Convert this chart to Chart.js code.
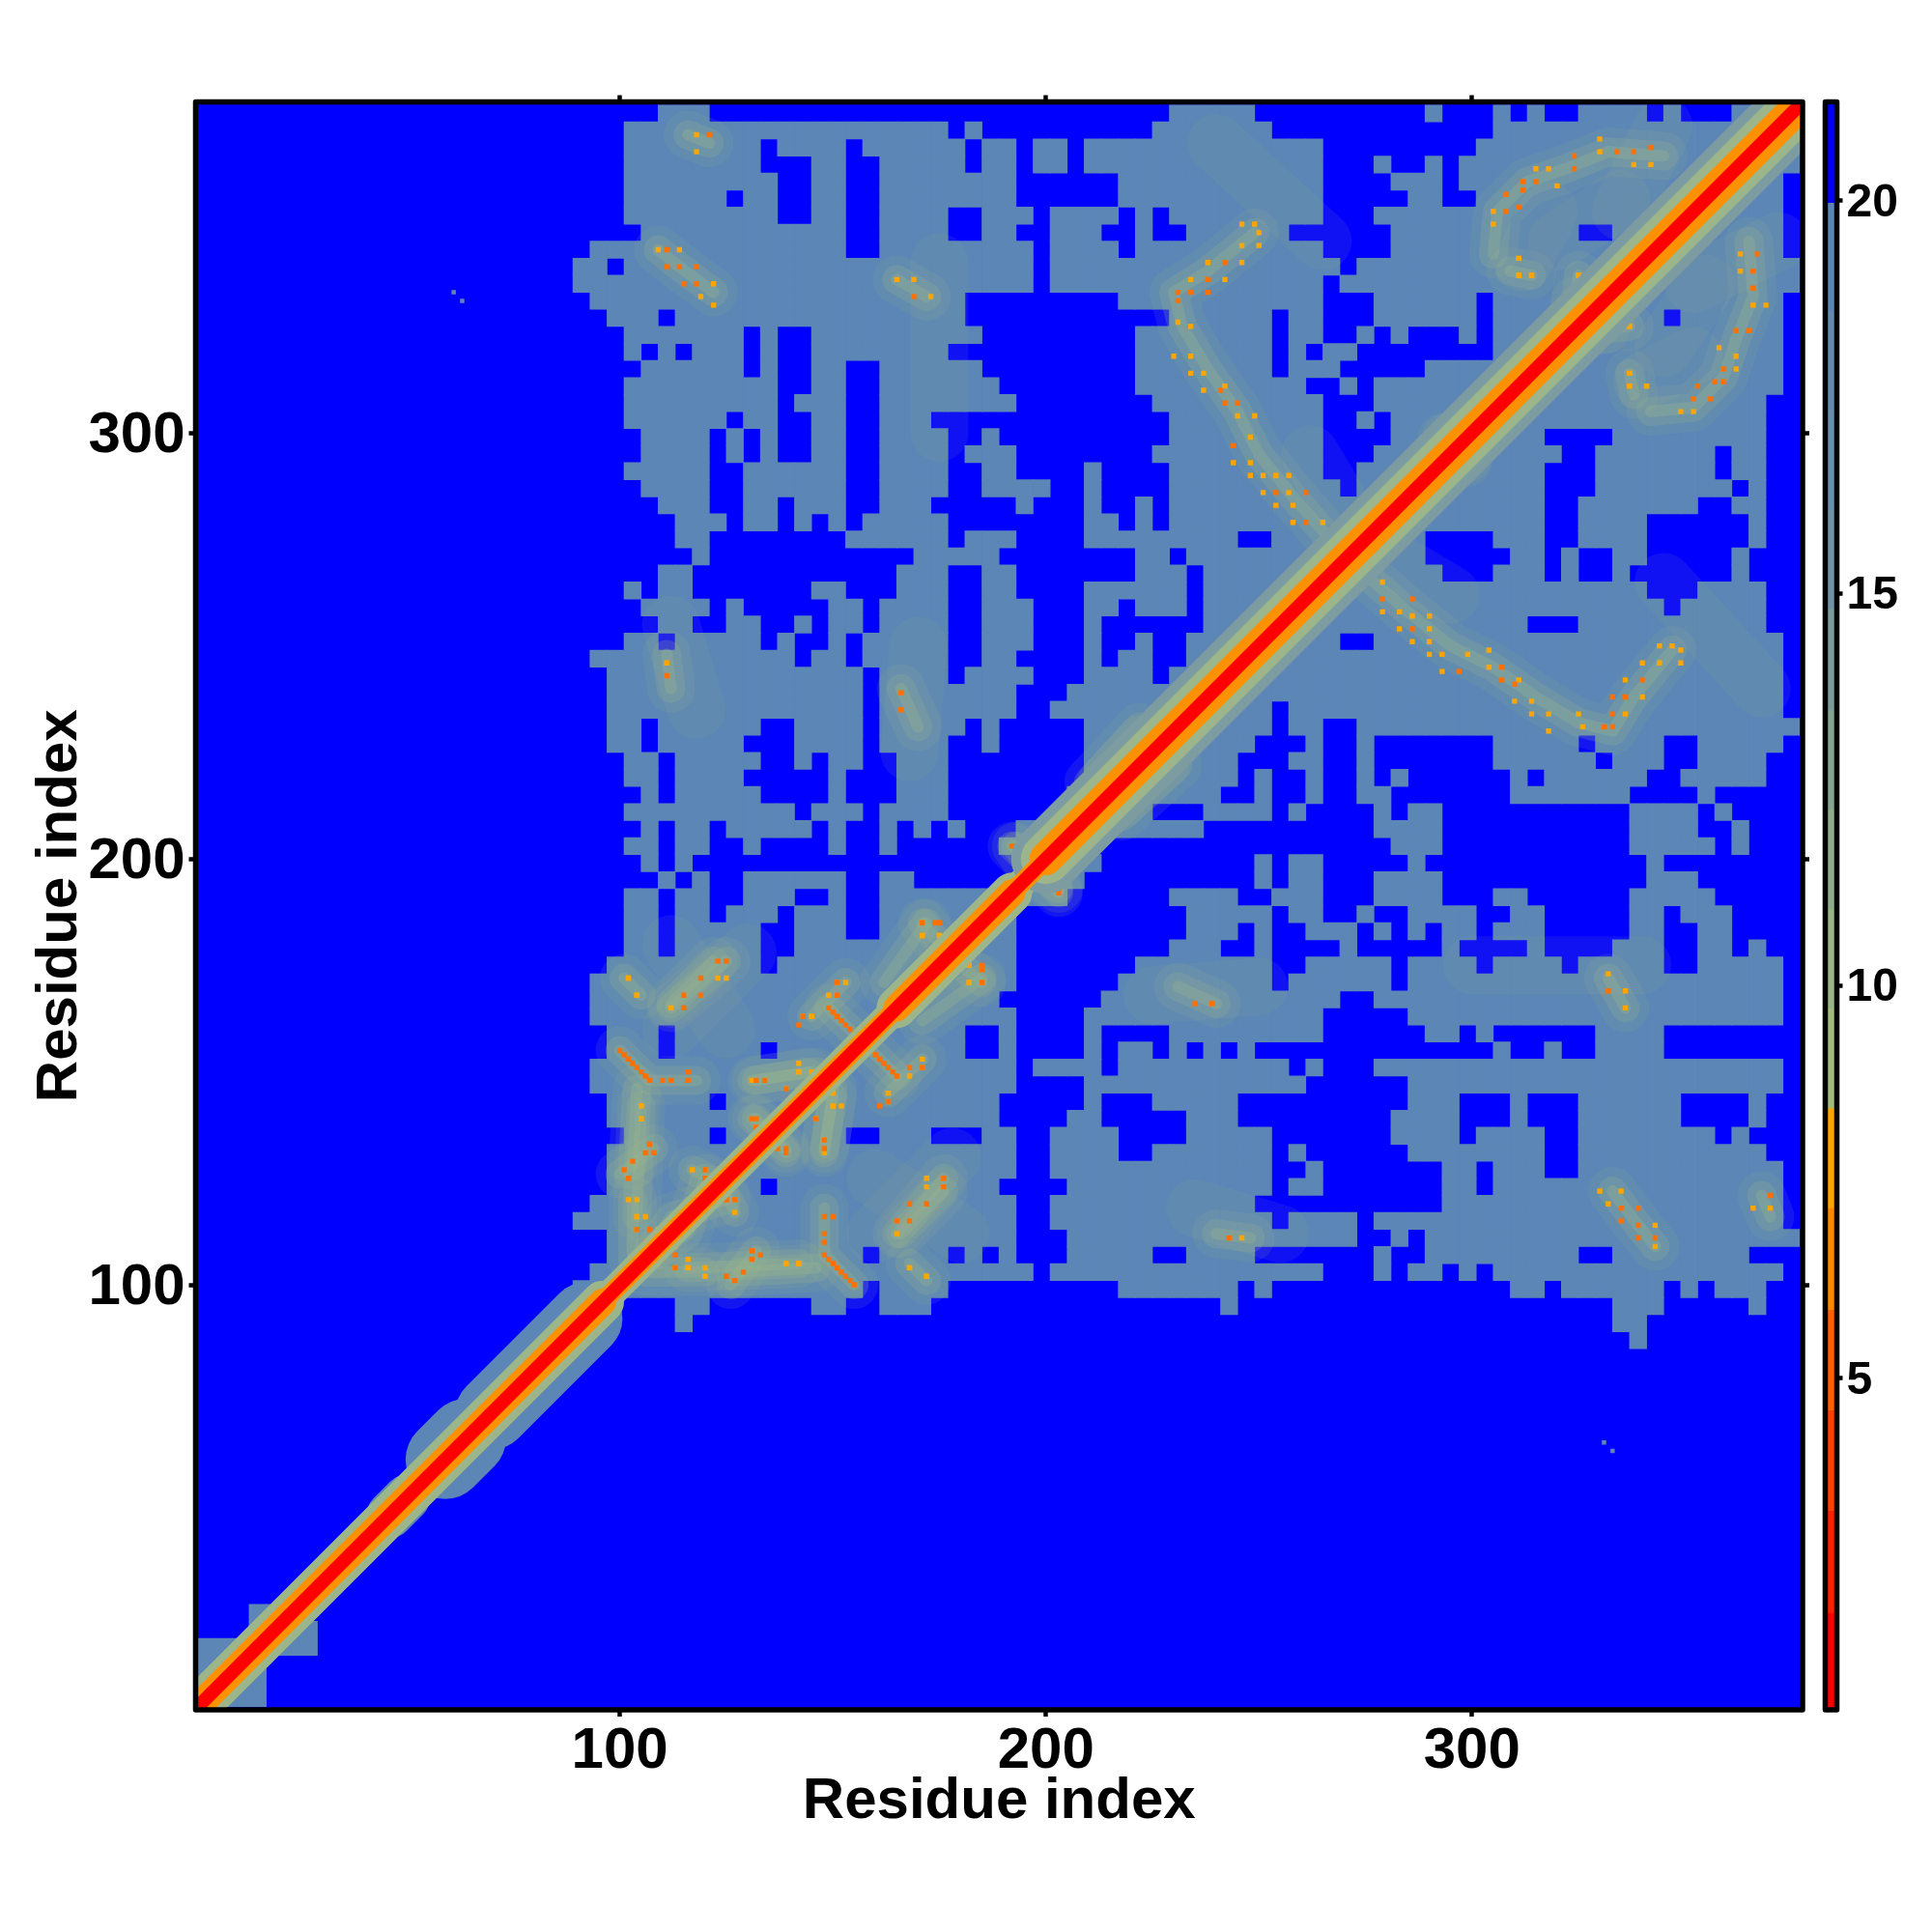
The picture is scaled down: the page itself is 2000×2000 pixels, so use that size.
<!DOCTYPE html>
<html>
<head>
<meta charset="utf-8">
<script src="https://cdn.jsdelivr.net/npm/chart.js@4"></script>
<style>
  html, body { margin: 0; background: #fff; }
  canvas { position: absolute; left: 0; top: 0; }
</style>
</head>
<body>
<canvas id="mapChart" width="2000" height="2000"></canvas>
<canvas id="barChart" width="2000" height="2000"></canvas>
<script>
// tick labels
const axisTicks = [100, 200, 300];
const colorTicks = [5, 10, 15, 20];

// colour key: band edges (distance) and the colour of each band
const bandEdges = [0.77, 2.0, 3.3, 4.58, 5.86, 7.16, 8.43, 9.7, 10.97, 12.24, 13.5, 14.8, 16.06, 17.33, 18.6, 19.97, 21.26];
const bandColors = ['#ff0000', '#ff2000', '#ff4000', '#ff6000', '#ff8800', '#ffa500', '#a3bc7e', '#9ab584', '#8fad8b',
    '#84a592', '#7a9c9b', '#6f94a6', '#6790ac', '#618cb0', '#5b86b6', '#0000ff'];

// residues per row of the coarse map, top row first: blocks below 20 A, each block is 4 residues
const steelRows = [
    '27-29 57-61 72 76 78 81-84 86 90-93',
    '25-43 45 56-62 76-93',
    '25-32 34-37 39-44 46-47 49-50 52-65 75-93',
    '25-32 36-37 40-44 46-47 49-50 52-65 69 72 74-93',
    '25-33 36-37 40-47 54-65 70-72 74-92',
    '25-30 32-33 36-37 40-47 54-65 71-72 75-92',
    '25-33 36-37 40-43 46-48 50-53 55 57-65 69-92',
    '26-37 40-43 46-47 50-52 55 58-63 70-80 83-92',
    '23-37 40-48 50-53 55-65 70-92',
    '22-23 25-48 50-66 68-93',
    '22-48 50-65 67-93',
    '23-44 54-65 69-74 76-92',
    '24-26 28-44 57-62 64-65 69-74 76-85 87-92',
    '25-31 33 36-45 55-62 64-65 68 70 74 76-92',
    '25 27 29-31 33 36-43 55-62 64 66-67 76-92',
    '26-31 33 36-37 40-45 55-62 64-66 72-92',
    '25-33 36-37 40-46 55-64 67 69-92',
    '25-33 35-37 40-47 56-65 69-91',
    '25-30 32-33 36-37 40-42 57-65 68 70-91',
    '26-29 31 33 36-37 40-43 46 57-65 70-78 83-91',
    '26-29 31 33 36-37 40-43 45-47 56-65 69-79 82-88 90-91',
    '25-29 32-37 40-43 46-47 52 57-65 68-78 82-88 90-91',
    '26-29 32-37 40-43 46-49 52 57-66 68-78 82-89 91',
    '27-29 32-33 35-37 40-42 48 52 55 57-78 81-87 90-91',
    '28-30 32-33 35 37 39-43 52-53 55 57-78 81-84 91',
    '28-29 38-43 45-47 52-60 63-71 76-78 81-84 91',
    '29 42-46 55-56 58-71 77-78 80 83-84 90',
    '27-28 41-43 46-47 55-57 59-72 76-78 80 83 90',
    '25 27-28 36-37 41-43 46-47 52-57 59-84 88-91',
    '26-29 31 37-38 40-43 46-48 52-53 55-57 59-85 87-91',
    '27-28 31-32 35 37-38 40-43 46-48 52 59-77 81-91',
    '25-26 28-32 34 37 39-43 46-48 52 55 58-66 69-92',
    '23-34 36-37 39-43 46-47 52 54-55 58-92',
    '24-38 40-43 45-48 52-55 57-92',
    '24-38 40-47 51-92',
    '24-38 40-47 50-62 64-92',
    '24-25 27-32 35-38 40-44 46 52-62 64-65 68-93',
    '24-25 27-31 35-38 40-43 46 52-61 65 68 76-80 82-85 88-92',
    '25-26 28-32 35 37-38 41-43 52-60 64-65 68 76-81 83-85 88-91',
    '25-26 28-31 37 41-43 52-60 62 65 68 70 77 79-84 87-91',
    '26 28-32 37 41-43 51-59 62 65 68-69 77-83 88',
    '25-34 36-38 40-43 51-55 59-62 64 69 71-72 84-87 89',
    '26 28-29 31-35 37 40 42 44 48-58 69-72 84-87 90',
    '25-26 28-29 32 37 40 47-51 70-72 84-88 90',
    '26 28 48-52 62 64-65 71 85',
    '27 29 32-37 40-41 48-51 62 64-65 69-72 85-87',
    '25-26 28-29 32-34 37 40-50 57-60 63-65 69-72 76-77 84-88',
    '25-26 28-29 31-33 35-37 40-47 58-62 64-65 68 71-74 77-78 84-85 87-89',
    '25-26 28-32 35-37 40-47 58-60 62 65-67 69 71 73-74 76-78 84-85 88-89',
    '25-26 28-32 35-47 57-59 62 67 73 78 83-85 88-89 91',
    '24-32 34-47 55-62 65-69 71-74 76-79 81-85 88-92',
    '23-47 54-62 64-69 71-92',
    '23-46 53-66 69-92',
    '23-47 52-65 71-92',
    '24-26 28-44 47 52 57-65 72-73 75 82-85',
    '24-26 28-32 34-44 47 52 54-55 57 59 61 76 79 82-85',
    '23-47 49-52 54-63 65 69-92',
    '23-47 52-64 71-92',
    '24-29 31-46 52 56-60 71-73 77 81-86 91',
    '24-46 51-52 58-60 70-73 77 81-86 91',
    '25-29 31-37 40-42 46-47 50-53 58-62 70-73 75-78 81-88 90',
    '24-47 50-53 56-62 64 71-78 81-91',
    '24-47 50-62 65 73-74 76-78 81-92',
    '24-32 34-46 51-62 64-65 73-74 76-92',
    '23-47 50-61 73-92',
    '22-47 50-62 64-67 69-92',
    '24-47 51-67 70 72-93',
    '24-38 40-43 45 47 51-55 58-61 69 72-80 83-90',
    '23-48 50-65 69 71-72 74 76-92',
    '22-38 40-43 54-60 62 77-78 80-85 87 89-91',
    '28-29 36-37 40-42 60 83-85 91',
    '28 83-84', '84',
    '', '', '', '', '', '', '', '', '', '', '', '', '', '', '',
    '3-5', '3-6', '0-2 4-6', '0-3', '0-3', '0-3'
];

// single cells under 20 A standing apart from the rest
const specksX = [61, 63, 331, 333];
const specksY = [333, 331, 63, 61];

// main diagonal
const diagonalX = [1, 377];
const diagonalY = [1, 377];
// stretches of the diagonal, by how thick the band is there
const looseStretch = [1, 96];
const tightStretch = [96, 200];
const thickStretch = [165, 192];
const innerStretch = [200, 377];
// wide blobs round the diagonal in the first 100 residues
const blobLarge = [[70, 70], [92, 92]];
const blobRound = [[59, 59], [64, 64]];
const blobSmall = [[46, 46], [50, 50]];
const blobTiny = [[15, 15], [22, 22]];

// ridges and patches of the 8-13 A range above the diagonal, x < y; the map is close to symmetric
const ridges = [
    [[270, 272], [265, 277], [258, 285], [250, 295], [245, 305], [238, 315], [232, 325], [230, 333], [238, 338], [249, 347]],
    [[305, 342], [306, 352], [313, 359], [322, 362], [332, 366], [345, 365]],
    [[309, 338], [314, 337]],
    [[325, 337], [324, 327], [331, 324]],
    [[109, 343], [114, 339], [122, 333]],
    [[116, 370], [121, 368]],
    [[165, 336], [172, 332]],
    [[111, 248], [112, 240]],
    [[166, 240], [170, 231]],
    [[100, 155], [107, 148], [118, 148]],
    [[104, 146], [103, 128]],
    [[100, 126], [108, 132]],
    [[112, 166], [122, 176]],
    [[101, 172], [105, 168]],
    [[107, 109], [112, 116], [125, 120]],
    [[149, 165], [155, 159]],
    [[145, 163], [150, 168], [153, 171]],
    [[131, 148], [146, 150], [150, 144], [148, 132]],
    [[131, 139], [139, 132]],
    [[171, 185], [175, 180]],
    [[171, 162], [185, 172]],
    [[117, 127], [121, 125]],
    [[103, 120], [103, 106]],
    [[116, 104], [142, 105]],
    [[165, 112], [176, 125]],
    [[193, 203], [196, 199]],
    [[199, 196], [203, 192]],
    [[213, 218], [222, 228]],
    [[218, 210], [231, 222]],
    [[293, 299], [299, 294]]
];

// pale cross-hatched patches further out
const palePatches = [
    [[240, 368], [265, 345]],
    [[312, 340], [318, 352]],
    [[335, 352], [345, 372]],
    [[345, 320], [355, 335]],
    [[262, 295], [268, 285]],
    [[175, 300], [175, 340]],
    [[118, 235], [112, 255]],
    [[170, 250], [168, 225]],
    [[112, 180], [125, 160]],
    [[160, 112], [178, 130]]
];

// strongest single contacts away from the diagonal, x < y
const contactsAmber = [[118, 370], [118, 366], [109, 343], [114, 343], [122, 335], [119, 332], [122, 330], [165, 336], [169, 336], [173, 332],
    [111, 246], [246, 349], [249, 349], [250, 347], [246, 344], [250, 344], [238, 340], [246, 340], [234, 336], [242, 336], [231, 326], [234, 325],
    [230, 318], [234, 318], [234, 314], [237, 314], [237, 310], [242, 311], [245, 304], [249, 304], [248, 299], [244, 293], [248, 293], [248, 290],
    [251, 290], [254, 290], [257, 290], [251, 286], [257, 286], [254, 283], [258, 283], [258, 279], [265, 279], [270, 275], [330, 369], [330, 366],
    [338, 363], [342, 363], [315, 362], [318, 362], [320, 358], [305, 352], [305, 349], [311, 341], [311, 337], [314, 337], [337, 314], [337, 311],
    [341, 311], [325, 337], [330, 338], [324, 330], [328, 330], [330, 326], [334, 325], [337, 325], [318, 325], [325, 318], [297, 303], [299, 294],
    [303, 297], [344, 350], [341, 350], [353, 345], [123, 172], [125, 172], [102, 172], [104, 168], [112, 165], [151, 171], [153, 171], [149, 168],
    [143, 163], [145, 163], [171, 182], [175, 182], [182, 175], [185, 171], [182, 171], [142, 150], [145, 150], [150, 142], [152, 142], [163, 145],
    [131, 148], [134, 148], [137, 140], [146, 139], [117, 127], [127, 120], [102, 120], [104, 116], [106, 116], [109, 113], [113, 104], [116, 104],
    [120, 104], [139, 105], [142, 105], [168, 104], [172, 102], [105, 142], [105, 139], [213, 218], [217, 214], [222, 227], [221, 213]];
const contactsOrange = [[121, 370], [111, 343], [111, 339], [114, 339], [118, 339], [115, 335], [118, 335], [169, 332], [111, 243], [166, 239], [166, 235],
    [242, 340], [238, 336], [231, 333], [234, 333], [238, 333], [231, 331], [241, 310], [242, 307], [245, 307], [244, 297], [254, 286], [261, 286],
    [261, 279], [265, 275], [265, 271], [324, 365], [334, 366], [338, 366], [342, 367], [324, 362], [312, 359], [315, 359], [312, 357], [308, 356],
    [308, 352], [311, 353], [350, 344], [359, 354], [354, 360], [323, 327], [324, 333], [328, 323], [331, 324], [293, 299], [123, 176], [125, 176],
    [119, 172], [115, 168], [119, 168], [115, 165], [171, 185], [175, 185], [175, 179], [185, 174], [185, 185], [171, 151], [168, 151], [161, 142],
    [163, 143], [139, 146], [143, 146], [148, 132], [148, 134], [120, 127], [120, 125], [125, 120], [107, 113], [104, 113], [107, 109], [110, 106],
    [100, 155], [101, 154], [102, 153], [103, 152], [104, 151], [105, 150], [106, 149], [107, 148], [110, 148], [112, 148], [116, 148], [116, 150],
    [101, 127], [102, 125], [103, 129], [106, 131], [107, 133], [108, 131], [149, 165], [150, 164], [151, 163], [152, 162], [153, 161], [154, 160],
    [155, 159], [131, 139], [133, 136], [135, 134], [137, 132], [139, 132], [193, 203], [194, 202], [195, 201], [196, 199], [199, 196], [200, 195],
    [201, 194], [202, 193], [203, 192], [204, 207], [227, 222], [228, 218], [231, 222], [218, 228], [222, 230], [219, 224]];

const STEEL = '#5b86b6';
const SAGE = '#9cb58a';
const BLUE = '#0000ff';

// plot-area fill and frame, shared by both charts
const framePlugin = {
    id: 'frame',
    beforeDatasetsDraw(chart) {
        const a = chart.chartArea;
        chart.ctx.save();
        chart.ctx.fillStyle = BLUE;
        chart.ctx.fillRect(a.left, a.top, a.width, a.height);
        chart.ctx.restore();
    },
    afterDraw(chart) {
        const a = chart.chartArea;
        const ctx = chart.ctx;
        ctx.save();
        ctx.strokeStyle = '#000';
        ctx.lineWidth = 5.5;
        ctx.lineJoin = 'round';
        ctx.strokeRect(a.left, a.top, a.width, a.height);
        ctx.restore();
    }
};

function mirror(points) {
    return points.map(p => ({ x: p[1], y: p[0] }));
}

function toPoints(points) {
    return points.map(p => ({ x: p[0], y: p[1] }));
}

function steelCells() {
    const out = [];
    steelRows.forEach((row, r) => {
        row.split(' ').filter(Boolean).forEach(run => {
            const parts = run.split('-').map(Number);
            const last = parts.length > 1 ? parts[1] : parts[0];
            for (let c = parts[0]; c <= last; c++) {
                out.push({ x: 3 + c * 4, y: 375 - r * 4 });
            }
        });
    });
    return out;
}

function band(points, width, color) {
    return {
        type: 'scatter', data: points, showLine: true, borderColor: color, borderWidth: width,
        borderCapStyle: 'round', borderJoinStyle: 'round', pointRadius: 0, tension: 0
    };
}

function cells(points, radius, color) {
    return {
        type: 'scatter', data: points, showLine: false, pointStyle: 'rect', pointRadius: radius,
        pointBackgroundColor: color, pointBorderWidth: 0, pointHoverRadius: radius
    };
}

function stretch(pair) {
    return [{ x: pair[0], y: pair[0] }, { x: pair[1], y: pair[1] }];
}

function both(points, width, color) {
    layers.push(band(toPoints(points), width, color));
    layers.push(band(mirror(points), width, color));
}

// paint order, bottom first
const layers = [];
layers.push(cells(steelCells(), 13, STEEL));
layers.push(cells(specksX.map((x, i) => ({ x: x, y: specksY[i] })), 3.2, STEEL));
layers.push(band(toPoints(blobLarge), 76, STEEL));
layers.push(band(toPoints(blobRound), 82, STEEL));
layers.push(band(toPoints(blobSmall), 48, STEEL));
layers.push(band(toPoints(blobTiny), 40, STEEL));
palePatches.forEach(p => both(p, 60, 'rgba(156,181,138,0.1)'));
ridges.forEach(r => both(r, 50, 'rgba(156,181,138,0.12)'));
ridges.forEach(r => both(r, 30, 'rgba(156,181,138,0.22)'));
ridges.forEach(r => both(r, 12, 'rgba(156,181,138,0.3)'));
layers.push(cells(toPoints(contactsAmber).concat(mirror(contactsAmber)), 3.8, '#ffa500'));
layers.push(cells(toPoints(contactsOrange).concat(mirror(contactsOrange)), 3.8, '#ff7000'));

const diagonal = diagonalX.map((x, i) => ({ x: x, y: diagonalY[i] }));
layers.push(band(stretch(looseStretch), 44, SAGE));
layers.push(band(stretch(tightStretch), 30, SAGE));
layers.push(band(stretch(thickStretch), 42, SAGE));
layers.push(band(stretch(innerStretch), 72, '#7c9ca2'));
layers.push(band(stretch(innerStretch), 52, SAGE));
layers.push(band(stretch(looseStretch), 28, '#ff9000'));
layers.push(band(stretch(tightStretch), 20, '#ff9000'));
layers.push(band(stretch(thickStretch), 28, '#ff9000'));
layers.push(band(stretch(innerStretch), 34, '#ff9000'));
layers.push(band(diagonal, 14, '#ff0000'));

function fixedWidth(w) {
    return scale => { scale.width = w; };
}
function fixedHeight(h) {
    return scale => { scale.height = h; };
}
function useTicks(values) {
    return scale => { scale.ticks = values.map(v => ({ value: v })); };
}

const labelFont = { family: '"Liberation Sans", Arial, sans-serif', weight: 'bold', size: 60 };
const tickLine = { drawOnChartArea: false, drawTicks: true, tickLength: 7, tickWidth: 4.5, tickColor: '#000' };

new Chart(document.getElementById('mapChart'), {
    type: 'scatter',
    plugins: [framePlugin],
    data: { datasets: layers.reverse() },
    options: {
        responsive: false,
        animation: false,
        events: [],
        plugins: { legend: { display: false }, tooltip: { enabled: false } },
        layout: { padding: 0 },
        scales: {
            x: {
                type: 'linear', position: 'bottom', min: 0.43, max: 377.6,
                border: { display: false }, grid: tickLine,
                afterBuildTicks: useTicks(axisTicks), afterFit: fixedHeight(230),
                ticks: { color: '#000', font: labelFont, padding: 0, maxRotation: 0 },
                title: { display: true, text: 'Residue index', color: '#000', font: labelFont, padding: { top: 0, bottom: 99 } }
            },
            y: {
                type: 'linear', position: 'left', min: 0.23, max: 377.7,
                border: { display: false }, grid: tickLine,
                afterBuildTicks: useTicks(axisTicks), afterFit: fixedWidth(202.5),
                ticks: { color: '#000', font: labelFont, padding: 4, maxRotation: 0, labelOffset: 3 },
                title: { display: true, text: 'Residue index', color: '#000', font: labelFont, padding: { top: 26, bottom: 0 } }
            },
            xTop: {
                type: 'linear', position: 'top', min: 0.43, max: 377.6,
                border: { display: false }, grid: tickLine,
                afterBuildTicks: useTicks(axisTicks), afterFit: fixedHeight(105.5),
                ticks: { display: false }
            },
            yRight: {
                type: 'linear', position: 'right', min: 0.23, max: 377.7,
                border: { display: false }, grid: tickLine,
                afterBuildTicks: useTicks(axisTicks), afterFit: fixedWidth(134),
                ticks: { display: false }
            }
        }
    }
});

// colour key on its own canvas, same height as the map
new Chart(document.getElementById('barChart'), {
    type: 'bar',
    plugins: [framePlugin],
    data: {
        labels: [''],
        datasets: bandColors.map((c, i) => ({
            data: [[bandEdges[i], bandEdges[i + 1]]],
            backgroundColor: c, barPercentage: 1, categoryPercentage: 1, grouped: false, borderWidth: 0
        }))
    },
    options: {
        responsive: false,
        animation: false,
        events: [],
        plugins: { legend: { display: false }, tooltip: { enabled: false } },
        layout: { padding: { left: 1889.5, top: 105.5, bottom: 230 } },
        scales: {
            x: { display: false },
            y: {
                type: 'linear', position: 'right', min: bandEdges[0], max: bandEdges[bandEdges.length - 1],
                border: { display: false }, grid: Object.assign({}, tickLine, { tickLength: 6 }),
                afterBuildTicks: useTicks(colorTicks), afterFit: fixedWidth(98.5),
                ticks: { color: '#000', font: { family: labelFont.family, weight: 'bold', size: 48 }, padding: 4, labelOffset: 3 }
            }
        }
    }
});
</script>
</body>
</html>
